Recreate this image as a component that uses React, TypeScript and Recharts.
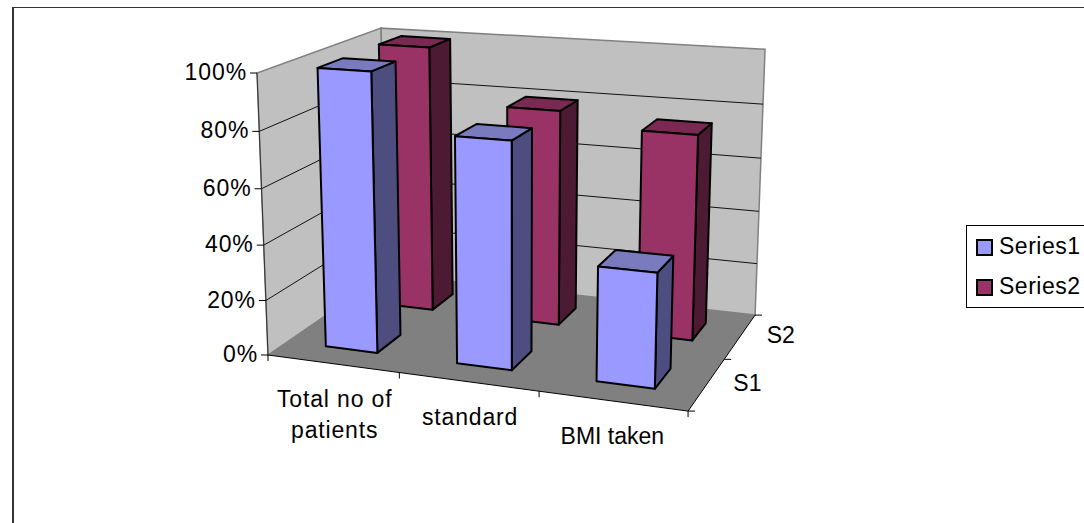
import { BarChart, Bar, XAxis, YAxis, Customized } from 'recharts';

const CATEGORIES = ['Total no of\npatients', 'standard', 'BMI taken'];
const SERIES1 = [100, 80, 40];
const SERIES2 = [100, 80, 75];
const Y_TICKS = [0, 20, 40, 60, 80, 100];
const DEPTH_LABELS = ['S1', 'S2'];

const chartData = CATEGORIES.map((name, i) => ({ name, s1: SERIES1[i], s2: SERIES2[i] }));

const FONT = '"Liberation Sans", Arial, sans-serif';
const FONT_SIZE = 23;
const CATEGORY_SPACING = [0.85, 0.85, 0];

// plot rectangle handed to recharts, then bent into the 3d box by project()
const LEFT = 100;
const TOP = 100;
const PLOT_W = 700;
const PLOT_H = 300;
const WIDTH = 1084;
const HEIGHT = 523;

// perspective coefficients fitted to the floor and wall corners
const G = -0.0902;
const H = 0.1546;
const I = -0.0425;

function project(u: number, v: number, d: number): [number, number] {
  const w = 1 + G * u + H * d + I * v;
  const px = 358 * u + 177.7 * d + 268 - 21.9 * v;
  const py = 19 * u - 38.6 * d + 355 - 285.1 * v;
  return [px / w, py / w];
}

const pts = (list: [number, number, number][]) =>
  list.map(([u, v, d]) => project(u, v, d).join(',')).join(' ');

const toU = (x: number) => (x - LEFT) / PLOT_W;
const toV = (y: number) => (TOP + PLOT_H - y) / PLOT_H;

function Box(props: any) {
  const { x, y, width, fill, side, top, d0, d1 } = props;
  const u0 = toU(x);
  const u1 = toU(x + width);
  const v = toV(y);
  const line = { stroke: '#000', strokeWidth: 2, strokeLinejoin: 'round' as const };
  return (
    <g>
      <polygon points={pts([[u1, 0, d0], [u1, 0, d1], [u1, v, d1], [u1, v, d0]])} fill={side} {...line} />
      <polygon points={pts([[u0, v, d0], [u1, v, d0], [u1, v, d1], [u0, v, d1]])} fill={top} {...line} />
      <polygon points={pts([[u0, 0, d0], [u1, 0, d0], [u1, v, d0], [u0, v, d0]])} fill={fill} {...line} />
    </g>
  );
}

function Walls() {
  const grid = Y_TICKS.slice(1, -1).map((t) => t / 100);
  const stubs = CATEGORIES.map((_, i) => i / CATEGORIES.length).concat(1);
  const [flx, fly] = project(0, 0, 0);
  const [frx, fry] = project(1, 0, 0);
  const [brx, bry] = project(1, 0, 1);
  const [tlx, tly] = project(0, 1, 0);
  return (
    <g>
      <polygon points={pts([[0, 0, 0], [0, 1, 0], [0, 1, 1], [0, 0, 1]])} fill="#C0C0C0" stroke="#808080" strokeWidth={1.5} />
      <polygon points={pts([[0, 0, 1], [0, 1, 1], [1, 1, 1], [1, 0, 1]])} fill="#C0C0C0" stroke="#808080" strokeWidth={1.5} />
      <polygon points={pts([[0, 0, 0], [1, 0, 0], [1, 0, 1], [0, 0, 1]])} fill="#808080" />
      {grid.map((v) => (
        <polyline
          key={v}
          points={pts([[0, v, 0], [0, v, 1], [1, v, 1]])}
          fill="none"
          stroke="#111"
          strokeWidth={1}
        />
      ))}
      <line x1={tlx} y1={tly} x2={flx} y2={fly} stroke="#333" strokeWidth={1} />
      <line x1={flx} y1={fly} x2={frx} y2={fry} stroke="#000" strokeWidth={1} />
      <line x1={frx} y1={fry} x2={brx} y2={bry} stroke="#000" strokeWidth={1} />
      {stubs.map((u) => {
        const [sx, sy] = project(u, 0, 0);
        return <line key={u} x1={sx} y1={sy} x2={sx} y2={sy + 6} stroke="#000" />;
      })}
      {[0, 0.5, 1].map((d) => {
        const [sx, sy] = project(1, 0, d);
        return <line key={d} x1={sx} y1={sy} x2={sx + 7} y2={sy} stroke="#000" />;
      })}
      {DEPTH_LABELS.map((label, i) => {
        const [sx, sy] = project(1, 0, (i + 0.5) / DEPTH_LABELS.length);
        return (
          <text key={label} x={sx + 26.5} y={sy + 7} fontSize={FONT_SIZE} fontFamily={FONT} fill="#000">
            {label}
          </text>
        );
      })}
    </g>
  );
}

function CategoryTick({ x, payload, index }: any) {
  const [px, py] = project(toU(x), 0, 0);
  const shift = CATEGORY_SPACING[index] > 0 ? 2 : 0;
  return (
    <text
      x={px + shift}
      y={py + 43}
      textAnchor="middle"
      fontSize={FONT_SIZE}
      fontFamily={FONT}
      fill="#000"
      style={{ letterSpacing: CATEGORY_SPACING[index] }}
    >
      {String(payload.value).split('\n').map((t, i) => (
        <tspan key={t} x={px + shift} dy={i === 0 ? 0 : 31}>
          {t}
        </tspan>
      ))}
    </text>
  );
}

function ValueTick({ y, payload }: any) {
  const [px, py] = project(0, toV(y), 0);
  return (
    <g>
      <line x1={px - 7} y1={py} x2={px} y2={py} stroke="#000" />
      <text
        x={px - 10}
        y={py + 7}
        textAnchor="end"
        fontSize={FONT_SIZE}
        fontFamily={FONT}
        fill="#000"
        style={{ letterSpacing: 0.9 }}
      >
        {payload.value}%
      </text>
    </g>
  );
}

function LegendBox() {
  const rows = [
    { name: 'Series1', color: '#9999FF' },
    { name: 'Series2', color: '#993366' },
  ];
  return (
    <div
      style={{
        position: 'absolute',
        left: 966,
        top: 225,
        width: 130,
        height: 81,
        border: '1px solid #000',
        fontFamily: FONT,
        fontSize: FONT_SIZE,
        color: '#000',
      }}
    >
      {rows.map((r, i) => (
        <div key={r.name} style={{ position: 'absolute', left: 9, top: 13 + i * 40, display: 'flex', alignItems: 'center', height: 16 }}>
          <div style={{ width: 13, height: 13, background: r.color, border: '2px solid #000', marginRight: 6 }} />
          <span style={{ letterSpacing: 0.5, position: 'relative', top: -1 }}>{r.name}</span>
        </div>
      ))}
    </div>
  );
}

export default function App() {
  return (
    <div style={{ position: 'absolute', left: 0, top: 0, width: WIDTH, height: HEIGHT, overflow: 'hidden', background: '#fff' }}>
      <div style={{ position: 'absolute', left: 12, top: 7, width: WIDTH, height: HEIGHT, borderLeft: '2px solid #333', borderTop: '1.5px solid #333' }} />
      <BarChart
        width={WIDTH}
        height={HEIGHT}
        data={chartData}
        margin={{ left: LEFT - 1, top: TOP, right: WIDTH - LEFT - PLOT_W, bottom: HEIGHT - TOP - PLOT_H - 1 }}
        barSize={(PLOT_W / CATEGORIES.length) * 0.4}
        barGap={-(PLOT_W / CATEGORIES.length) * 0.4}
        style={{ position: 'absolute', left: 0, top: 0 }}
      >
        <Customized component={Walls} />
        <XAxis dataKey="name" height={1} axisLine={false} tickLine={false} tick={CategoryTick} interval={0} />
        <YAxis domain={[0, 100]} ticks={Y_TICKS} width={1} axisLine={false} tickLine={false} tick={ValueTick} interval={0} />
        <Bar dataKey="s2" name="Series2" fill="#993366" isAnimationActive={false} shape={(p: any) => <Box {...p} side="#4D1A33" top="#7A2952" d0={0.65} d1={0.85} />} />
        <Bar dataKey="s1" name="Series1" fill="#9999FF" isAnimationActive={false} shape={(p: any) => <Box {...p} side="#4D4D80" top="#7A7ABF" d0={0.15} d1={0.35} />} />
      </BarChart>
      <LegendBox />
    </div>
  );
}
